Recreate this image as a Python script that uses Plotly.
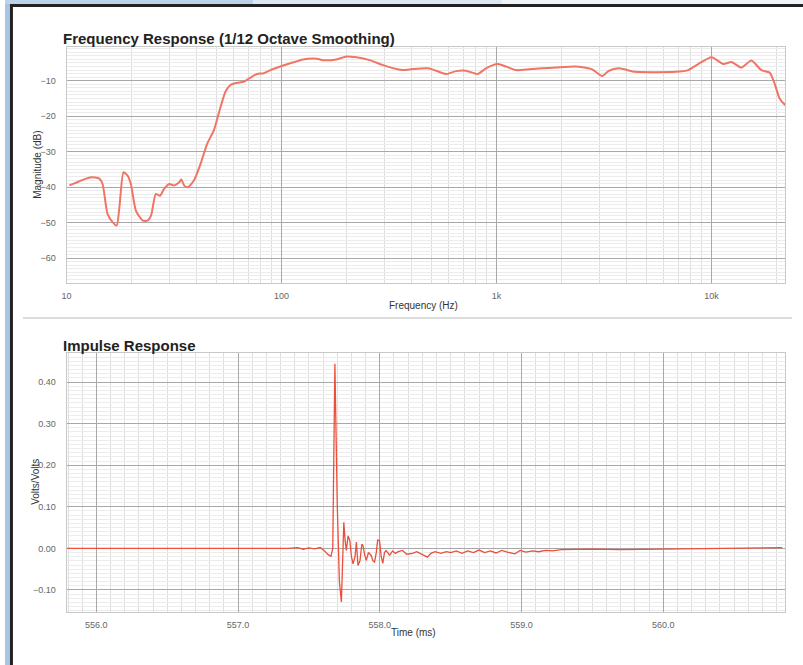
import plotly.graph_objects as go

W, H = 803, 665

# Frequency response (1/12 octave smoothing)
freq_hz = [10.3, 11.7, 13.0, 14.2, 14.7, 15.5, 16.4, 17.1, 17.6, 18.4, 19.2, 19.9,
           21.0, 22.6, 23.8, 24.7, 26.0, 27.2, 28.4, 30.0, 31.6, 33.4, 34.2, 35.2,
           36.7, 39.1, 42.0, 45.1, 48.4, 52.0, 54.8, 57.8, 62.1, 66.7, 71.6, 76.9,
           82.6, 88.7, 98.6, 109.7, 126, 146, 156, 180, 200, 223, 257, 296, 342,
           367, 408, 480, 524, 583, 648, 721, 817, 893, 1011, 1105, 1230, 1417,
           1633, 1883, 2330, 2782, 3095, 3324, 3697, 4416, 5465, 6768, 7800, 8670,
           10000, 11330, 12380, 13770, 15320, 17040, 18620, 19640, 20720, 22000]
magnitude_db = [-39.5, -38.1, -37.2, -37.6, -39.1, -47.5, -49.9, -50.8, -45.7, -35.8,
                -36.7, -39.1, -46.6, -49.4, -49.4, -48.0, -41.9, -42.4, -40.5, -39.1,
                -39.5, -38.6, -37.8, -39.5, -40.0, -38.1, -33.4, -27.7, -24.0, -17.4,
                -13.1, -11.2, -10.6, -10.3, -9.1, -8.1, -7.9, -7.0, -6.0, -5.1,
                -4.0, -3.8, -4.2, -4.0, -3.2, -3.4, -4.2, -5.6, -6.7,
                -7.0, -6.7, -6.5, -7.2, -8.1, -7.3, -7.2, -8.1, -6.5, -5.3, -6.0,
                -7.0, -6.8, -6.5, -6.3, -6.0, -6.8, -8.7, -7.2, -6.5, -7.5, -7.6,
                -7.5, -7.0, -5.3, -3.4, -5.3, -4.7, -6.3, -4.3, -7.0, -7.7, -10.8,
                -15.0, -16.9]

freq_tick_vals = [10, 100, 1000, 10000]
freq_tick_text = ["10", "100", "1k", "10k"]
db_tick_vals = [-10, -20, -30, -40, -50, -60]

# Impulse response
time_ms = [555.79, 557.0, 557.35, 557.42, 557.46, 557.5, 557.54, 557.58, 557.61,
           557.635, 557.655, 557.668, 557.683, 557.700, 557.715, 557.729, 557.738,
           557.746, 557.755, 557.764, 557.776, 557.788, 557.800, 557.811, 557.825,
           557.835, 557.846, 557.860, 557.873, 557.881, 557.893, 557.904, 557.92,
           557.939, 557.952, 557.963, 557.975, 557.985, 557.998, 558.01, 558.021,
           558.033, 558.044, 558.057, 558.07, 558.09, 558.11, 558.13, 558.16,
           558.19, 558.23, 558.26, 558.30, 558.336, 558.36, 558.39, 558.43, 558.47,
           558.50, 558.54, 558.58, 558.62, 558.66, 558.70, 558.74, 558.78, 558.82,
           558.86, 558.90, 558.953, 558.99, 559.03, 559.08, 559.12, 559.17, 559.22,
           559.28, 559.37, 559.5, 559.7, 559.9, 560.1, 560.3, 560.5, 560.7, 560.84]
volts = [0.0, 0.0, 0.0, 0.002, -0.002, 0.001, -0.001, 0.002, -0.006,
         -0.015, -0.019, 0.0, 0.444, 0.10, -0.08, -0.129, -0.02,
         0.063, 0.02, -0.005, 0.03, 0.020, -0.02, -0.037, -0.02,
         0.015, -0.041, -0.03, 0.01, 0.007, -0.015, -0.029, -0.01,
         -0.017, -0.03, -0.033, -0.01, 0.02, 0.019, -0.02, -0.036,
         -0.01, -0.005, -0.012, -0.016, -0.006, -0.012, -0.008, -0.005,
         -0.014, -0.012, -0.008, -0.015, -0.021, -0.012, -0.008, -0.012, -0.008,
         -0.01, -0.006, -0.012, -0.006, -0.01, -0.004, -0.01, -0.006, -0.011,
         -0.005, -0.009, -0.013, -0.005, -0.009, -0.006, -0.008, -0.005, -0.006,
         -0.003, -0.002, -0.002, -0.003, -0.002, -0.001, 0.0, 0.001, 0.002, 0.002]

time_tick_vals = [556.0, 557.0, 558.0, 559.0, 560.0]
volt_tick_vals = [-0.10, 0.0, 0.10, 0.20, 0.30, 0.40]


def px_x(p):
    return p / W


def px_y(p):
    return 1 - p / H


FONT = "Liberation Sans, Arial, Helvetica, sans-serif"
TICK_FONT = dict(family=FONT, size=9, color="#666")
MAJOR = "#a8a8a8"
MINOR = "#dedede"

fig = go.Figure()
fig.add_trace(go.Scatter(x=freq_hz, y=magnitude_db, mode="lines",
                         line=dict(color="#ef7565", width=2, shape="spline", smoothing=0.6),
                         xaxis="x", yaxis="y", showlegend=False))
fig.add_trace(go.Scatter(x=time_ms, y=volts, mode="lines",
                         line=dict(color="#e9503c", width=1.3),
                         xaxis="x2", yaxis="y2", showlegend=False))

x_dom = [px_x(62), px_x(785)]

fig.update_layout(
    width=W, height=H,
    margin=dict(l=0, r=0, t=0, b=0),
    paper_bgcolor="white", plot_bgcolor="white",
    xaxis=dict(type="log", domain=x_dom, range=[1, 4.342], anchor="y",
               tickvals=freq_tick_vals, ticktext=freq_tick_text, tickfont=TICK_FONT,
               showgrid=True, gridcolor=MAJOR, gridwidth=1, ticks="", ticklabelstandoff=4,
               minor=dict(dtick="D1", showgrid=True, gridcolor=MINOR, ticks=""),
               showline=True, linecolor="#c8c8c8", mirror=True, zeroline=False),
    yaxis=dict(domain=[px_y(283), px_y(47)], range=[-67, -0.5], anchor="x",
               tickvals=db_tick_vals, tickfont=TICK_FONT,
               showgrid=True, gridcolor=MAJOR, gridwidth=1, ticks="", ticklabelstandoff=8,
               minor=dict(dtick=1, showgrid=True, gridcolor="#ececec", ticks=""),
               showline=True, linecolor="#c8c8c8", mirror=True, zeroline=False),
    xaxis2=dict(domain=x_dom, range=[555.79, 560.86], anchor="y2",
                tickvals=time_tick_vals, tickformat=".1f", tickfont=TICK_FONT,
                showgrid=True, gridcolor=MAJOR, gridwidth=1, ticks="", ticklabelstandoff=4,
                minor=dict(dtick=0.1, showgrid=True, gridcolor=MINOR, ticks=""),
                showline=True, linecolor="#c8c8c8", mirror=True, zeroline=False),
    yaxis2=dict(domain=[px_y(612), px_y(353)], range=[-0.153, 0.47], anchor="x2",
                tickvals=volt_tick_vals, tickformat=".2f", tickfont=TICK_FONT,
                showgrid=True, gridcolor=MAJOR, gridwidth=1, ticks="", ticklabelstandoff=8,
                minor=dict(dtick=0.01, showgrid=True, gridcolor="#ececec", ticks=""),
                showline=True, linecolor="#c8c8c8", mirror=True, zeroline=False),
)

# Window frame: light blue strips with a dark rule along the left and top edges
shapes = [
    dict(type="rect", xref="paper", yref="paper", x0=0, x1=px_x(5), y0=0, y1=1,
         fillcolor="#a9c5e4", line_width=0, layer="below"),
    dict(type="rect", xref="paper", yref="paper", x0=0, x1=px_x(250), y0=px_y(4), y1=1,
         fillcolor="#bcd2ea", line_width=0, layer="below"),
    dict(type="rect", xref="paper", yref="paper", x0=px_x(250), x1=px_x(500), y0=px_y(4), y1=1,
         fillcolor="#dbe7f3", line_width=0, layer="below"),
    dict(type="rect", xref="paper", yref="paper", x0=px_x(500), x1=1, y0=px_y(4), y1=1,
         fillcolor="#f0f4f9", line_width=0, layer="below"),
    dict(type="rect", xref="paper", yref="paper", x0=px_x(5), x1=px_x(8), y0=0, y1=px_y(4),
         fillcolor="#222222", line_width=0, layer="below"),
    dict(type="rect", xref="paper", yref="paper", x0=px_x(5), x1=1, y0=px_y(7), y1=px_y(4),
         fillcolor="#222222", line_width=0, layer="below"),
    # divider between the two panels
    dict(type="line", xref="paper", yref="paper", x0=px_x(18), x1=px_x(792),
         y0=px_y(318), y1=px_y(318), line=dict(color="#dcdcdc", width=2)),
]
fig.update_layout(shapes=shapes)

TITLE_FONT = dict(family=FONT, size=15, color="#222")
LABEL_FONT = dict(family=FONT, size=10, color="#333")
annotations = [
    dict(text="<b>Frequency Response (1/12 Octave Smoothing)</b>", x=px_x(56), y=px_y(38),
         xanchor="left", yanchor="middle", font=TITLE_FONT),
    dict(text="<b>Impulse Response</b>", x=px_x(56), y=px_y(345),
         xanchor="left", yanchor="middle", font=TITLE_FONT),
    dict(text="Magnitude (dB)", x=px_x(32), y=px_y(165), textangle=-90,
         xanchor="center", yanchor="middle", font=LABEL_FONT),
    dict(text="Frequency (Hz)", x=px_x(421), y=px_y(305),
         xanchor="center", yanchor="middle", font=LABEL_FONT),
    dict(text="Volts/Volts", x=px_x(30), y=px_y(482), textangle=-90,
         xanchor="center", yanchor="middle", font=LABEL_FONT),
    dict(text="Time (ms)", x=px_x(411), y=px_y(632),
         xanchor="center", yanchor="middle", font=LABEL_FONT),
]
for a in annotations:
    a.update(xref="paper", yref="paper", showarrow=False)
fig.update_layout(annotations=annotations)

fig.write_html("out.html")
